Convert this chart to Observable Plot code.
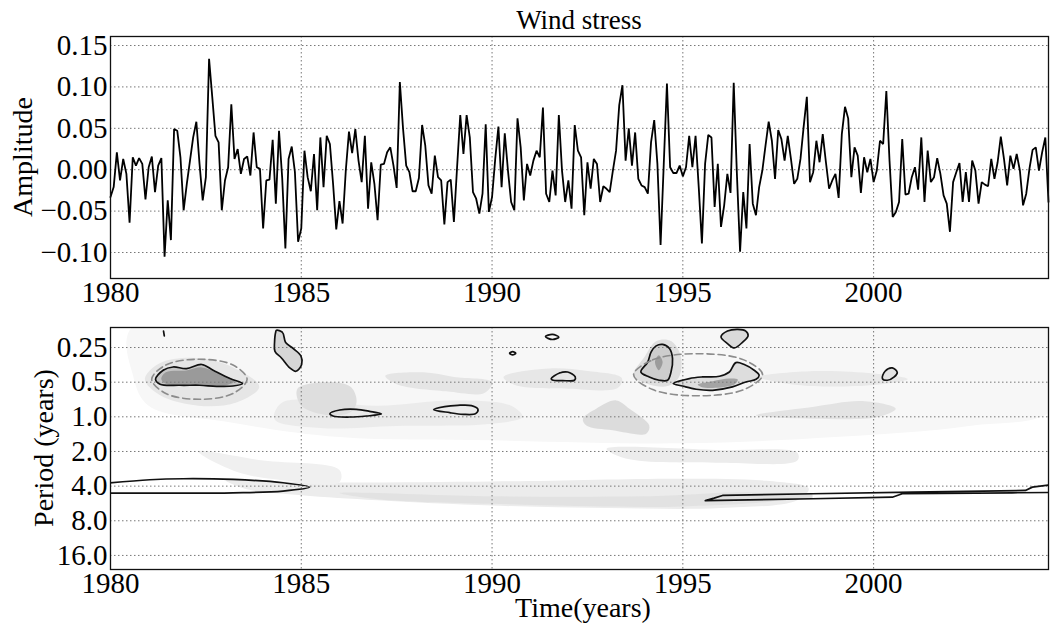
<!DOCTYPE html>
<html><head><meta charset="utf-8">
<script src="https://cdn.jsdelivr.net/npm/d3@7"></script>
<script src="https://cdn.jsdelivr.net/npm/@observablehq/plot@0.6"></script>
<style>
body{margin:0;background:#fff;}
#wrap{position:relative;width:1050px;height:623px;overflow:hidden;font-family:"Liberation Serif",serif;color:#000;background:#fff;}
.lbl{position:absolute;white-space:nowrap;line-height:1;font-size:28px;}
#topPanel,#botPanel{position:absolute;left:0;}
#topPanel{top:0;} #botPanel{top:312px;}
#title{left:579px;top:7px;font-size:27px;transform:translateX(-50%);}
#xlab{left:583px;top:594px;transform:translateX(-50%);}
#ylab1{left:23px;top:157px;transform:translate(-50%,-50%) rotate(-90deg);}
#ylab2{left:44px;top:448px;transform:translate(-50%,-50%) rotate(-90deg);}
</style></head><body>
<div id="wrap">
<div id="topPanel"></div><div id="botPanel"></div>
<div class="lbl" id="title">Wind stress</div>
<div class="lbl" id="ylab1">Amplitude</div>
<div class="lbl" id="ylab2">Period (years)</div>
<div class="lbl" id="xlab">Time(years)</div>
</div>
<script>
// ---------- data ----------
const startYear = 1980;
const amplitude = [
-0.033,-0.021,0.021,-0.013,0.013,-0.005,-0.064,0.015,0.005,0.014,0.007,-0.036,
0.003,0.016,-0.027,0.005,0.014,-0.105,-0.037,-0.085,0.049,0.047,0.015,-0.049,
-0.017,0.011,0.039,0.058,0.007,-0.037,-0.009,0.134,0.088,0.041,0.033,-0.049,
-0.013,0.003,0.079,0.013,0.025,-0.005,0.013,0.016,-0.007,0.045,0.003,0.001,
-0.071,-0.013,-0.012,0.036,-0.041,0.047,-0.010,-0.095,0.013,0.028,-0.003,-0.087,
-0.071,0.023,-0.009,-0.026,0.019,-0.049,0.039,-0.021,0.041,0.031,-0.017,-0.072,
-0.038,-0.065,-0.001,0.046,0.020,0.049,0.011,-0.015,0.041,-0.047,0.009,-0.017,
-0.061,0.006,0.007,0.021,0.027,0.005,-0.022,0.106,0.050,0.005,-0.003,-0.026,
-0.026,-0.010,0.054,0.029,-0.019,-0.029,0.017,-0.009,-0.013,-0.066,-0.015,-0.012,
-0.063,0.003,0.066,0.019,0.066,0.039,-0.027,-0.035,-0.053,-0.029,0.055,-0.051,
-0.033,0.013,0.052,-0.021,0.044,-0.001,-0.039,-0.049,0.062,0.027,-0.037,0.007,
-0.007,0.011,0.023,0.015,0.075,-0.029,-0.039,-0.001,-0.031,0.066,-0.001,-0.039,
-0.013,-0.047,0.054,0.023,0.015,-0.055,0.009,-0.023,0.013,0.007,-0.039,-0.020,
-0.023,-0.027,-0.001,0.023,0.078,0.102,0.011,0.050,0.005,0.045,-0.011,-0.019,
-0.021,-0.029,0.033,0.060,0.007,-0.091,0.007,0.104,0.003,-0.004,-0.004,0.005,
-0.008,0.003,0.041,0.003,0.041,-0.021,-0.089,0.007,0.042,0.039,-0.045,0.007,
-0.069,-0.043,-0.005,-0.028,0.105,-0.005,-0.099,-0.027,-0.071,0.031,-0.041,-0.055,
-0.021,-0.001,0.029,0.058,0.035,-0.011,0.048,0.037,0.011,0.041,0.013,-0.017,
-0.011,0.013,0.052,0.088,-0.015,-0.003,0.035,0.009,0.043,0.009,-0.023,-0.013,
-0.005,-0.034,0.043,0.076,0.062,-0.009,0.027,0.017,-0.028,0.015,-0.003,0.013,
-0.015,-0.001,0.035,0.031,0.095,0.011,-0.057,-0.051,-0.039,0.037,-0.030,-0.029,
-0.009,0.003,-0.024,0.039,-0.039,0.023,-0.015,-0.009,0.014,-0.005,-0.031,-0.041,
-0.075,-0.015,-0.003,0.008,-0.039,-0.003,-0.039,0.011,-0.001,-0.041,-0.015,-0.018,
-0.020,0.013,-0.011,0.009,0.040,0.013,-0.019,0.017,0.001,0.019,-0.001,-0.043,
-0.029,0.001,0.024,0.027,-0.001,0.021,0.039,-0.039
];
const yearTicks = [1980, 1985, 1990, 1995, 2000];
const ampTicks = [-0.10, -0.05, 0.00, 0.05, 0.10, 0.15];
const periodTicks = [0.25, 0.5, 1, 2, 4, 8, 16];

// wavelet power shading regions [year, period]
const washLight = [[1980.6,0.16],[2004.7,0.16],[2004.7,0.85],[2002.5,1.2],[1999,1.5],[1995,1.7],[1990,1.6],[1986,1.5],[1983,1.1],[1981,0.8],[1980.6,0.45]];
const band4 = [[1983.0,3.5],[1985,3.7],[1990,3.65],[1995,3.45],[1997.2,3.6],[1998.3,4.2],[1998.0,5.3],[1996,6.2],[1993,6.2],[1990,5.9],[1987,5.3],[1985,4.8],[1983.5,4.2]];
const band5 = [[1986,4.6],[1990,4.9],[1994,4.9],[1997,4.6],[1997.5,5.2],[1995,6.0],[1990,5.7],[1987,5.2]];
const wedge24 = [[1982.3,2.0],[1984,2.4],[1986,2.9],[1986,3.7],[1984.5,3.55],[1983.3,3.0]];
const band2 = [[1993,1.9],[1996,1.95],[1998,2.05],[1998,2.4],[1996,2.5],[1993.5,2.3]];
const patchA = [[1984.9,0.57],[1985.75,0.5],[1986.3,0.55],[1986.45,0.74],[1986.3,0.91],[1985.75,0.97],[1985.0,0.8]];
const patchB = [[1984.5,0.75],[1987,0.8],[1989,0.72],[1990.5,0.8],[1990.8,1.0],[1990,1.15],[1987.5,1.2],[1985.5,1.25],[1984.3,1.05]];
const patchC = [[1992.38,1.04],[1992.73,0.85],[1993.25,0.72],[1993.6,0.85],[1994.12,1.19],[1994.04,1.40],[1993.16,1.31],[1992.47,1.19]];
const patchD = [[1996.92,0.97],[1998.4,0.82],[1999.71,0.73],[2000.58,0.85],[2000.14,1.0],[1998.4,1.04]];
const patchE = [[1987.2,0.44],[1988.2,0.41],[1989,0.45],[1990,0.5],[1989.8,0.62],[1988.8,0.6],[1987.5,0.52]];
const patchF = [[1990.3,0.45],[1991.5,0.38],[1992.5,0.4],[1993.4,0.46],[1993.3,0.56],[1992,0.57],[1990.6,0.53]];
const patchG = [[1997,0.45],[1998.5,0.4],[2000,0.42],[2000.9,0.47],[2000,0.53],[1998,0.53]];
const patchH = [[1980.9,0.47],[1981.3,0.34],[1982.4,0.31],[1983.4,0.4],[1983.9,0.55],[1983.3,0.75],[1982.3,0.8],[1981.3,0.65]];
const patchI = [[1993.7,0.44],[1994.0,0.3],[1994.3,0.22],[1994.7,0.22],[1994.95,0.3],[1994.9,0.45],[1994.6,0.54],[1994.1,0.52]];
const core1 = [[1981.33,0.47],[1981.45,0.41],[1981.99,0.395],[1982.39,0.372],[1982.72,0.405],[1983.25,0.49],[1983.04,0.528],[1982.34,0.524],[1981.45,0.516]];
const core8 = [[1994.27,0.334],[1994.37,0.292],[1994.47,0.334],[1994.37,0.394]];
const core9 = [[1995.39,0.525],[1995.78,0.491],[1996.22,0.465],[1996.44,0.475],[1996.35,0.525],[1995.78,0.562],[1995.48,0.55]];
const core13 = [[1995.59,5.35],[1996.04,4.82],[1998.4,4.66],[1998.4,5.15]];

// significance contours [year, period]
const c1 = [[1981.18,0.472],[1981.38,0.394],[1981.64,0.369],[1981.99,0.381],[1982.39,0.351],[1982.69,0.394],[1983.13,0.465],[1983.46,0.514],[1983.21,0.540],[1982.78,0.543],[1982.34,0.532],[1981.82,0.532],[1981.30,0.521]];
const c2 = [[1984.35,0.177],[1984.51,0.185],[1984.59,0.226],[1984.79,0.255],[1984.99,0.296],[1985.01,0.351],[1984.86,0.402],[1984.70,0.376],[1984.48,0.308],[1984.31,0.270],[1984.30,0.224],[1984.33,0.183]];
const c3 = [[1985.75,0.938],[1986.01,0.872],[1986.44,0.86],[1986.79,0.896],[1987.10,0.945],[1986.71,0.984],[1986.27,1.004],[1985.83,0.984]];
const c4 = [[1988.47,0.866],[1988.76,0.815],[1989.10,0.794],[1989.46,0.799],[1989.63,0.86],[1989.57,0.938],[1989.24,0.951],[1988.89,0.92]];
const c5 = [[1990.46,0.280],[1990.54,0.271],[1990.62,0.280],[1990.54,0.290]];
const c6 = [[1991.40,0.201],[1991.58,0.192],[1991.75,0.203],[1991.58,0.213]];
const c7 = [[1991.55,0.465],[1991.77,0.416],[1991.98,0.408],[1992.18,0.45],[1992.16,0.481],[1991.85,0.484],[1991.58,0.478]];
const c8 = [[1994.47,0.235],[1994.65,0.255],[1994.73,0.312],[1994.69,0.408],[1994.60,0.481],[1994.38,0.481],[1994.12,0.45],[1993.90,0.408],[1994.08,0.334],[1994.17,0.273],[1994.30,0.242]];
const c9 = [[1994.75,0.514],[1995.17,0.465],[1995.52,0.45],[1995.96,0.444],[1996.22,0.408],[1996.39,0.338],[1996.61,0.351],[1996.87,0.394],[1997.00,0.436],[1996.92,0.472],[1996.65,0.498],[1996.30,0.55],[1995.78,0.588],[1995.35,0.576],[1994.99,0.54]];
const c10 = [[1996.0,0.202],[1996.17,0.18],[1996.44,0.174],[1996.65,0.18],[1996.71,0.198],[1996.57,0.224],[1996.35,0.252],[1996.17,0.231]];
const c11 = [[2000.23,0.465],[2000.30,0.402],[2000.49,0.376],[2000.62,0.412],[2000.54,0.45],[2000.36,0.481]];
const c12 = [[1979.9,3.77],[1981.03,3.52],[1981.91,3.45],[1983.21,3.50],[1984.52,3.74],[1985.22,4.08],[1984.52,4.42],[1983.21,4.57],[1981.47,4.60],[1979.9,4.60]];
const c13 = [[2004.7,3.87],[2004.16,4.08],[2003.98,4.36],[2001.02,4.51],[1998.40,4.66],[1996.04,4.82],[1995.82,5.09],[1995.59,5.35],[1998.40,5.15],[2000.49,4.99],[2000.75,4.66],[2003.63,4.57],[2004.7,4.54]];
const cTick = [[1981.39,0.180],[1981.41,0.198]];

// dashed ellipses [year, period]
const ellipse1 = [[1981.08,0.472],[1981.45,0.355],[1982.33,0.316],[1983.21,0.355],[1983.58,0.472],[1983.21,0.627],[1982.33,0.704],[1981.45,0.627]];
const ellipse2 = [[1993.71,0.431],[1994.21,0.320],[1995.40,0.283],[1996.60,0.320],[1997.09,0.431],[1996.60,0.580],[1995.40,0.657],[1994.21,0.580]];

// ---------- chart ----------
const series = amplitude.map((v, i) => ({t: startYear + i / 12, v}));
const xDomain = [startYear, startYear + (amplitude.length - 1) / 12];
const font = {fontFamily: "'Liberation Serif', serif", fontSize: "29px", background: "transparent", color: "#000", overflow: "visible"};
const gridStyle = {stroke: "#777", strokeOpacity: 1, strokeDasharray: "1.5,2.5", strokeWidth: 1};

const topChart = Plot.plot({
  width: 1050, height: 312, marginTop: 36, marginBottom: 34, marginLeft: 110, marginRight: 2,
  style: font,
  x: {domain: xDomain, label: null},
  y: {domain: [-0.1314, 0.1609], label: null},
  marks: [
    Plot.gridX(yearTicks, gridStyle),
    Plot.gridY(ampTicks, gridStyle),
    Plot.axisX(yearTicks, {tickSize: 0, tickPadding: 3, tickFormat: d => String(d), label: null}),
    Plot.axisY(ampTicks, {tickSize: 0, tickPadding: 3, tickFormat: d3.format(".2f"), label: null}),
    Plot.line(series, {x: "t", y: "v", stroke: "#000", strokeWidth: 1.8, strokeLinejoin: "miter"}),
    Plot.frame({stroke: "#111", strokeWidth: 1.3})
  ]
});
document.getElementById("topPanel").append(topChart);

const pts = a => a.map(([t, p]) => ({t, p}));
const shade = (a, color, curve = "catmull-rom-closed") =>
  Plot.line(pts(a), {x: "t", y: "p", curve, fill: color, stroke: "none", clip: true});
const contour = (a, curve = "catmull-rom-closed") =>
  Plot.line(pts(a), {x: "t", y: "p", curve, stroke: "#111", strokeWidth: 1.7, fill: "none", clip: true});
const ell = a =>
  Plot.line(pts(a), {x: "t", y: "p", curve: "catmull-rom-closed", stroke: "#8c8c8c", strokeWidth: 1.6, strokeDasharray: "7,4", fill: "none", clip: true});

const botChart = Plot.plot({
  width: 1050, height: 311, marginTop: 15, marginBottom: 54, marginLeft: 110, marginRight: 2,
  style: font,
  x: {domain: xDomain, label: null},
  y: {type: "log", base: 2, domain: [0.1675, 21.2], reverse: true, label: null},
  marks: [
    shade(washLight, "#f7f7f7"),
    shade(band4, "#ececec"),
    shade(band5, "#e2e2e2"),
    shade(wedge24, "#f0f0f0"),
    shade(band2, "#ececec"),
    shade(patchB, "#ebebeb"),
    shade(patchA, "#dedede"),
    shade(patchC, "#dcdcdc"),
    shade(patchD, "#e3e3e3"),
    shade(patchE, "#e5e5e5"),
    shade(patchF, "#e7e7e7"),
    shade(patchG, "#e9e9e9"),
    shade(patchH, "#e6e6e6"),
    shade(patchI, "#dfdfdf"),
    shade(c1, "#c4c4c4"),
    shade(core1, "#9a9a9a"),
    shade(c2, "#d6d6d6"),
    shade(c8, "#cdcdcd"),
    shade(core8, "#9c9c9c"),
    shade(c9, "#dddddd"),
    shade(core9, "#a4a4a4"),
    shade(c10, "#dadada"),
    shade(c11, "#e4e4e4"),
    shade(core13, "#e0e0e0", "linear-closed"),
    Plot.gridX(yearTicks, gridStyle),
    Plot.gridY(periodTicks, gridStyle),
    Plot.axisX(yearTicks, {tickSize: 0, tickPadding: 3, tickFormat: d => String(d), label: null}),
    Plot.axisY(periodTicks, {tickSize: 0, tickPadding: 3, tickFormat: d => d === 0.25 ? "0.25" : d.toFixed(1), label: null}),
    contour(c1), contour(c2), contour(c3), contour(c4), contour(c5), contour(c6),
    contour(c7), contour(c8), contour(c9), contour(c10), contour(c11),
    contour(c12, "catmull-rom"), contour(c13, "linear"), contour(cTick, "linear"),
    ell(ellipse1), ell(ellipse2),
    Plot.frame({stroke: "#111", strokeWidth: 1.3})
  ]
});
document.getElementById("botPanel").append(botChart);
</script>
</body></html>
